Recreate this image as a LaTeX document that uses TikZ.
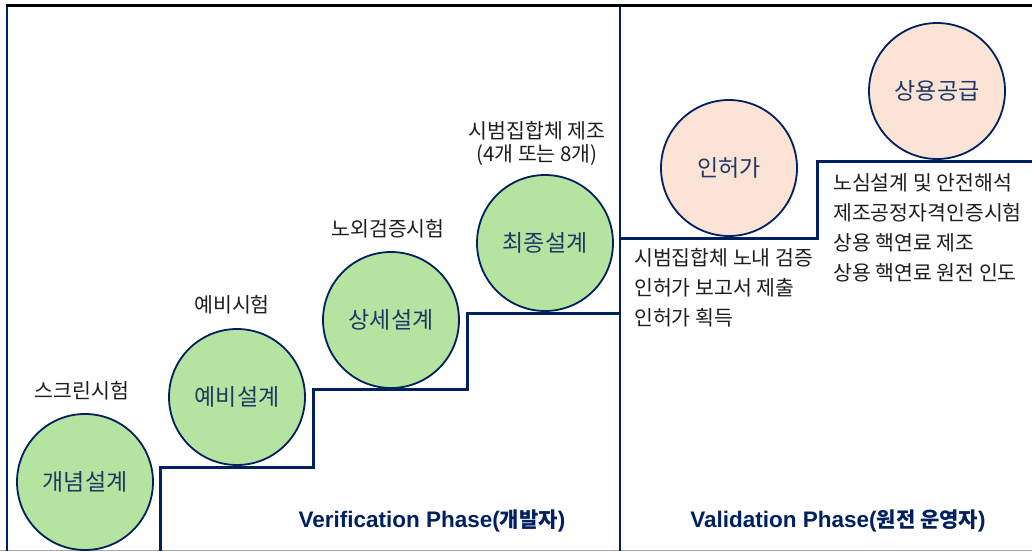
\documentclass[tikz,border=0pt]{standalone}
\usepackage{fontspec}
\setmainfont{Liberation Sans}
\newfontfamily\kr{Noto Sans CJK KR}
\definecolor{navy}{RGB}{0,32,96}
\definecolor{navytext}{RGB}{31,56,100}
\definecolor{greenfill}{RGB}{181,228,161}
\definecolor{pinkfill}{RGB}{251,227,214}
\definecolor{labeltext}{RGB}{30,30,30}
\begin{document}
\begin{tikzpicture}[x=1pt,y=-1pt,
  stage/.style={circle, draw=navy, line width=1.8pt, minimum size=136pt, inner sep=0pt,
    text=navytext, font=\kr\fontsize{23}{27}\selectfont},
  greenstage/.style={stage, fill=greenfill},
  pinkstage/.style={stage, fill=pinkfill},
  lbl/.style={font=\kr\fontsize{20.5}{24}\selectfont, text=labeltext, inner sep=0pt},
  blocklbl/.style={lbl, align=left, font=\kr\fontsize{20.5}{30}\selectfont, anchor=west},
  stair/.style={draw=navy, line width=3pt, line join=miter},
  frameline/.style={draw=navy, line width=2.5pt},
  phase/.style={text=navy, inner sep=0pt}
]
\useasboundingbox (0,0) rectangle (1032,551);

% frame lines
\coordinate (tl) at (7,6);
\coordinate (bl) at (7,551);
\coordinate (dt) at (620,6);
\coordinate (db) at (620,551);
\coordinate (tr) at (1032,6);
\draw[gray!70, line width=1pt] (0,550) -- (1032,550);
\path[frameline] (tl) -- (bl);
\path[frameline] (dt) -- (db);

% stairs (left)
\coordinate (s0) at (160,551);
\coordinate (s1) at (160,467);
\coordinate (s2) at (313,467);
\coordinate (s3) at (313,389);
\coordinate (s4) at (467,389);
\coordinate (s5) at (467,313);
\coordinate (s6) at (620,313);
\path[stair] (s0) -- (s1) -- (s2) -- (s3) -- (s4) -- (s5) -- (s6);
% stairs (right)
\coordinate (r0) at (620,238);
\coordinate (r1) at (817,238);
\coordinate (r2) at (817,161);
\coordinate (r3) at (1032,161);
\path[stair] (r0) -- (r1) -- (r2) -- (r3);

% circles
\node[greenstage] (c1) at (85,482) {개념설계};
\node[greenstage] (c2) at (237,397) {예비설계};
\node[greenstage] (c3) at (391,320) {상세설계};
\node[greenstage] (c4) at (545,243) {최종설계};
\node[pinkstage] (c5) at (729,168) {인허가};
\node[pinkstage] (c6) at (937,91) {상용공급};

% labels
\node[lbl] (l1) at (82,391) {스크린시험};
\node[lbl] (l2) at (232,305) {예비시험};
\node[lbl] (l3) at (388,229) {노외검증시험};
\node[lbl, align=center, font=\kr\fontsize{20.5}{23}\selectfont] (l4) at (537,143) {시범집합체 제조\\(4개 또는 8개)};

\node[blocklbl] (b1) at (634,288) {시범집합체 노내 검증\\인허가 보고서 제출\\인허가 획득};
\node[blocklbl] (b2) at (833,228) {노심설계 및 안전해석\\제조공정자격인증시험\\상용 핵연료 제조\\상용 핵연료 원전 인도};

% phases
\node[phase] (p1) at (432,521) {\fontsize{22.5}{26}\selectfont\bfseries Verification Phase(\kr\fontsize{21}{26}\selectfont\bfseries 개발자\rmfamily\fontsize{22.5}{26}\selectfont\bfseries )};
\node[phase] (p2) at (838,521) {\fontsize{22.5}{26}\selectfont\bfseries Validation Phase(\kr\fontsize{21}{26}\selectfont\bfseries 원전 운영자\rmfamily\fontsize{22.5}{26}\selectfont\bfseries )};

% top line
\draw[black, line width=3pt] (5.5,6) -- (tr);
\end{tikzpicture}
\end{document}
